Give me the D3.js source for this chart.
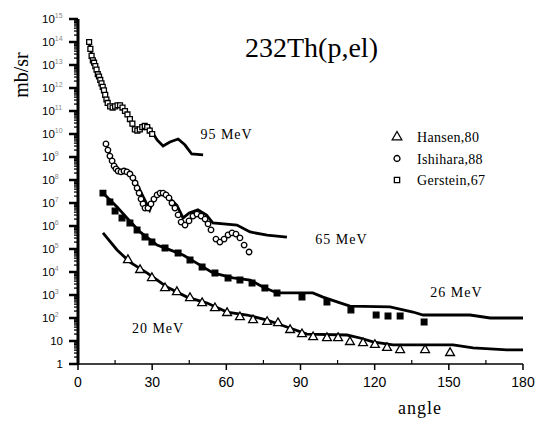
<!DOCTYPE html>
<html>
<head>
<meta charset="utf-8">
<script src="https://cdn.jsdelivr.net/npm/d3@7"></script>
<style>
  body { margin: 0; background: #fff; }
</style>
</head>
<body>
<div id="chart"></div>
<script>
// all values are log10(mb/sr) (curves are offset per energy)
var calc95Ang = [4.4, 6.1, 8.1, 10.1, 11.7, 14.2, 17, 19, 21, 23, 25, 27, 29, 32, 34.4, 37.2, 40.5, 43.3, 46, 50.6];
var calc95Lg  = [14.0, 13.2, 12.57, 12.0, 11.35, 11.17, 11.26, 11.04, 10.6, 10.17, 10.17, 10.35, 10.26, 9.74, 9.48, 9.65, 9.78, 9.52, 9.13, 9.09];

var calc65Ang = [11.3, 12.9, 15, 17, 19.8, 22.2, 25, 29, 31, 33, 36.4, 40, 42.5, 45, 48.5, 52, 54.6, 64.3, 69.6, 76.5, 84.5];
var calc65Lg  = [9.57, 9.09, 8.57, 8.35, 8.35, 8.13, 7.57, 6.7, 7.26, 7.43, 7.26, 6.9, 6.35, 6.57, 6.7, 6.48, 6.13, 6.04, 5.74, 5.6, 5.52];

var calc26Ang = [10.1, 15.8, 19.8, 25.1, 32, 37.2, 42.5, 49.4, 54.6, 62.7, 69.6, 74.8, 80.5, 95, 99.1, 104.8, 110, 126.2, 135.5, 139.6, 158.6, 166.7, 180];
var calc26Lg  = [7.43, 6.83, 6.35, 5.74, 5.17, 4.96, 4.74, 4.30, 3.96, 3.74, 3.65, 3.35, 3.09, 3.09, 2.91, 2.70, 2.52, 2.48, 2.26, 2.13, 2.13, 2.0, 2.0];

var calc20Ang = [10.1, 15.8, 21, 27.9, 36, 44.1, 52.2, 60.3, 68.4, 76.5, 84.5, 92.6, 108.8, 114.1, 119.3, 127.4, 151.7, 159.8, 173.5, 180];
var calc20Lg  = [5.70, 4.96, 4.43, 3.96, 3.35, 2.91, 2.65, 2.26, 2.13, 1.91, 1.61, 1.30, 1.26, 1.13, 0.96, 0.83, 0.83, 0.70, 0.61, 0.61];

// Gerstein,67 at 95 MeV (open squares)
var gers95Ang = [4.5, 5, 5.5, 6, 6.5, 7, 7.5, 8, 8.5, 9, 9.5, 10, 10.5, 11, 11.5, 12, 13, 14, 15, 16, 17, 18, 19, 20, 21, 22, 23, 24, 25, 26, 27, 28, 29, 30];
var gers95Lg  = [14.0, 13.7, 13.4, 13.2, 13.1, 12.95, 12.8, 12.6, 12.5, 12.35, 12.2, 12.05, 11.9, 11.7, 11.5, 11.35, 11.2, 11.15, 11.2, 11.25, 11.25, 11.15, 11.0, 10.85, 10.65, 10.45, 10.2, 10.15, 10.2, 10.3, 10.35, 10.3, 10.15, 10.0];

// Ishihara,88 at 65 MeV (open circles)
var ishi65Ang = [11.3, 12.1, 12.9, 13.8, 14.6, 15.4, 16.2, 17.4, 18.6, 19.8, 21.0, 22.2, 23.1, 23.9, 24.7, 25.5, 26.3, 27.1, 28.3, 29.5, 30.7, 32.0, 33.2, 34.4, 35.6, 36.8, 38.0, 39.2, 40.5, 41.7, 43.3, 44.9, 46.5, 48.1, 49.8, 51.4, 52.6, 53.8, 55.8, 57.4, 59.1, 60.7, 62.3, 63.9, 65.5, 67.2, 69.2];
var ishi65Lg  = [9.57, 9.30, 9.04, 8.83, 8.61, 8.48, 8.39, 8.35, 8.39, 8.35, 8.26, 8.09, 7.87, 7.65, 7.43, 7.17, 6.96, 6.78, 6.78, 6.96, 7.17, 7.35, 7.43, 7.43, 7.35, 7.22, 7.0, 6.78, 6.48, 6.17, 6.04, 6.22, 6.43, 6.52, 6.43, 6.30, 6.09, 5.83, 5.43, 5.30, 5.43, 5.61, 5.70, 5.65, 5.48, 5.17, 4.87];

// 26 MeV data (filled squares)
var data26Ang = [10.1, 12.9, 15.0, 17.8, 21.0, 23.9, 27.1, 29.9, 35.2, 40.5, 45.3, 50.2, 55.4, 60.7, 65.5, 70.4, 75.6, 80.5, 90.6, 100.7, 110.4, 120.6, 125.4, 130.3, 140.0];
var data26Lg  = [7.43, 7.04, 6.65, 6.35, 6.13, 5.83, 5.52, 5.30, 5.04, 4.83, 4.52, 4.22, 3.96, 3.74, 3.65, 3.52, 3.30, 3.09, 2.91, 2.70, 2.35, 2.13, 2.09, 2.09, 1.83];

// Hansen,80 at 20 MeV (open triangles)
var hans20Ang = [20.2, 25.1, 29.9, 35.2, 40.0, 45.3, 50.2, 55.4, 60.3, 65.5, 70.8, 76.5, 80.9, 85.8, 90.6, 95.1, 100.7, 105.2, 110.0, 115.3, 120.1, 125.0, 130.3, 140.4, 150.5];
var hans20Lg  = [4.52, 4.09, 3.74, 3.30, 3.13, 2.87, 2.65, 2.43, 2.22, 2.04, 1.91, 1.83, 1.78, 1.48, 1.30, 1.17, 1.13, 1.13, 0.96, 0.91, 0.83, 0.70, 0.61, 0.61, 0.48];

var xTicks = [0, 30, 60, 90, 120, 150, 180];
var yExps = d3.range(0, 16);
var energyLabels = [
  {text: "95 MeV", ang: 49.5, lg: 9.8},
  {text: "65 MeV", ang: 96, lg: 5.2},
  {text: "26 MeV", ang: 142.5, lg: 2.9},
  {text: "20 MeV", ang: 21.8, lg: 1.35}
];
var legendNames = ["Hansen,80", "Ishihara,88", "Gerstein,67"];

var SERIF = "'Liberation Serif', 'Times New Roman', 'DejaVu Serif', serif";
var SANS = "'Liberation Sans', Arial, sans-serif";

var width = 542, height = 421;
var x = d3.scaleLinear().domain([0, 180]).range([78, 523]);
var y = d3.scaleLog().domain([1, 1e15]).range([364, 19]);

function pts(ang, lg) {
  return ang.map(function(a, i) { return [a, Math.pow(10, lg[i])]; });
}

var svg = d3.select("#chart").append("svg")
  .attr("width", width).attr("height", height);

// x axis
var xAxis = svg.append("g").attr("transform", "translate(0,364)");
xAxis.append("line").attr("x1", 72).attr("x2", 523).attr("stroke", "#000").attr("stroke-width", 1.5);
xAxis.selectAll(".minor").data(d3.range(15, 180, 30)).enter().append("line")
  .attr("x1", d => x(d)).attr("x2", d => x(d)).attr("y1", 0).attr("y2", -4)
  .attr("stroke", "#000").attr("stroke-width", 1.2);
xAxis.selectAll(".major").data(xTicks).enter().append("line")
  .attr("x1", d => x(d)).attr("x2", d => x(d)).attr("y1", 0).attr("y2", 6)
  .attr("stroke", "#000").attr("stroke-width", 1.5);
xAxis.selectAll("text").data(xTicks).enter().append("text")
  .attr("font-family", SANS)
  .attr("x", d => x(d)).attr("y", 23)
  .attr("text-anchor", "middle").attr("font-size", 14)
  .text(d => d);

// y axis
var yAxis = svg.append("g");
yAxis.append("line").attr("x1", 78).attr("x2", 78).attr("y1", y(1e15)).attr("y2", 365)
  .attr("stroke", "#000").attr("stroke-width", 3);
var minors = [];
yExps.slice(0, 15).forEach(function(e) {
  for (var k = 2; k < 10; k++) minors.push(k * Math.pow(10, e));
});
yAxis.selectAll(".minor").data(minors).enter().append("line")
  .attr("x1", 74).attr("x2", 78).attr("y1", d => y(d)).attr("y2", d => y(d))
  .attr("stroke", "#000").attr("stroke-width", 1.3);
yAxis.selectAll(".major").data(yExps).enter().append("line")
  .attr("x1", 69).attr("x2", 78).attr("y1", d => y(Math.pow(10, d))).attr("y2", d => y(Math.pow(10, d)))
  .attr("stroke", "#000").attr("stroke-width", 2.5);
var yl = yAxis.selectAll(".lab").data(yExps).enter().append("text")
  .attr("font-family", SANS)
  .attr("x", d => d < 2 ? 63 : 42)
  .attr("y", d => y(Math.pow(10, d)) + 4)
  .attr("text-anchor", d => d < 2 ? "end" : "start")
  .attr("font-size", 11.5);
yl.append("tspan").text(d => d === 0 ? "1" : "10");
yl.filter(d => d >= 2).append("tspan")
  .attr("dy", -5).attr("font-size", 7).attr("fill", "#888")
  .text(d => d);

// curves
var line = d3.line().x(d => x(d[0])).y(d => y(d[1]));
[[calc95Ang, calc95Lg], [calc65Ang, calc65Lg], [calc26Ang, calc26Lg], [calc20Ang, calc20Lg]].forEach(function(c) {
  svg.append("path").datum(pts(c[0], c[1]))
    .attr("d", line).attr("fill", "none").attr("stroke", "#000")
    .attr("stroke-width", 2.8).attr("stroke-linejoin", "miter");
});

// markers
var sq = d3.symbol().type(d3.symbolSquare).size(24);
var sqFill = d3.symbol().type(d3.symbolSquare).size(32);
var circ = d3.symbol().type(d3.symbolCircle).size(24);
var tri = d3.symbol().type(d3.symbolTriangle).size(34);

function marks(data, sym, filled) {
  svg.append("g").selectAll("path").data(data).enter().append("path")
    .attr("d", sym)
    .attr("transform", d => "translate(" + x(d[0]) + "," + y(d[1]) + ")")
    .attr("fill", filled ? "#000" : "#fff")
    .attr("stroke", "#000").attr("stroke-width", 1.3);
}
marks(pts(gers95Ang, gers95Lg), sq, false);
marks(pts(ishi65Ang, ishi65Lg), circ, false);
marks(pts(data26Ang, data26Lg), sqFill, true);
marks(pts(hans20Ang, hans20Lg), tri, false);

// energy labels
svg.selectAll(".elab").data(energyLabels).enter().append("text")
  .attr("font-family", SERIF)
  .attr("x", d => x(d.ang)).attr("y", d => y(Math.pow(10, d.lg)))
  .attr("font-size", 14).attr("letter-spacing", 1)
  .text(d => d.text);

// title
svg.append("text").attr("font-family", SERIF)
  .attr("x", 245).attr("y", 57).attr("font-size", 28)
  .text("232Th(p,el)");

// axis titles
svg.append("text").attr("font-family", SERIF)
  .attr("transform", "translate(28,75) rotate(-90)")
  .attr("text-anchor", "middle").attr("font-size", 20)
  .text("mb/sr");
svg.append("text").attr("font-family", SERIF)
  .attr("x", 420).attr("y", 414)
  .attr("text-anchor", "middle").attr("font-size", 18).attr("letter-spacing", 1)
  .text("angle");

// legend
var legSyms = [d3.symbol().type(d3.symbolTriangle).size(40), d3.symbol().type(d3.symbolCircle).size(28), d3.symbol().type(d3.symbolSquare).size(28)];
var leg = svg.append("g").attr("transform", "translate(397,137)");
legendNames.forEach(function(n, i) {
  leg.append("path").attr("d", legSyms[i])
    .attr("transform", "translate(0," + (i * 21.5) + ")")
    .attr("fill", "#fff").attr("stroke", "#000").attr("stroke-width", 1.3);
  leg.append("text").attr("font-family", SERIF)
    .attr("x", 20).attr("y", i * 21.5 + 5)
    .attr("font-size", 14).attr("letter-spacing", 0.3)
    .text(n);
});
</script>
</body>
</html>
